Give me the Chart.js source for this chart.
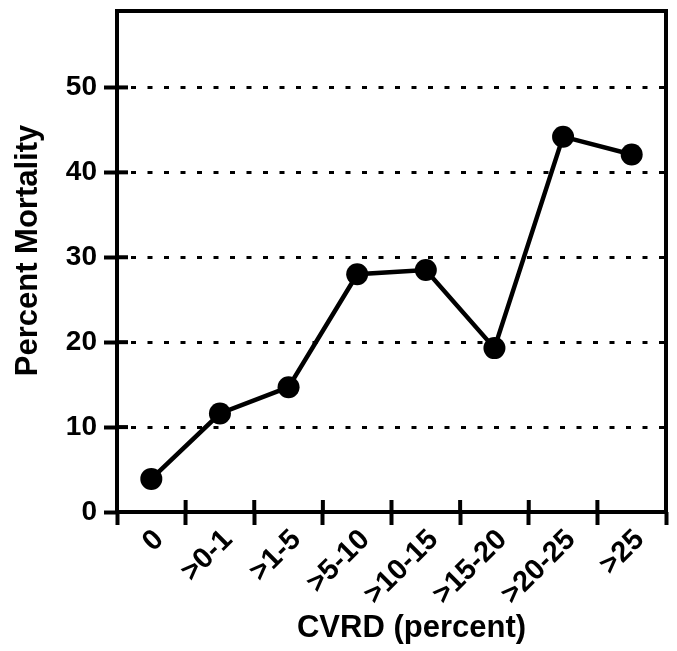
<!DOCTYPE html>
<html>
<head>
<meta charset="utf-8">
<title>Percent Mortality by CVRD</title>
<script src="https://cdn.jsdelivr.net/npm/chart.js@4.4.1/dist/chart.umd.min.js"></script>
<style>
  html, body { margin: 0; padding: 0; background: #fff; }
</style>
</head>
<body>
<canvas id="mortalityChart" width="677" height="651"></canvas>
<script>
// data
const cvrdGroups = ["0", ">0-1", ">1-5", ">5-10", ">10-15", ">15-20", ">20-25", ">25"];
const percentMortality = [3.9, 11.6, 14.7, 28.0, 28.5, 19.3, 44.2, 42.1];
const yTickValues = [0, 10, 20, 30, 40, 50];
const yMax = 59;
const xTitle = 'CVRD (percent)';
const yTitle = 'Percent Mortality';

const FONT = '"Liberation Sans", Arial, Helvetica, sans-serif';
const INK = '#000';
const CLEAR = 'rgba(0,0,0,0)';

// box around the plot + the half of each tick that pokes inside it
const frameTicks = {
  id: 'frameTicks',
  beforeDatasetsDraw(chart) {
    const {ctx, chartArea: a, scales} = chart;
    ctx.save();
    ctx.strokeStyle = INK;
    ctx.lineWidth = 4;
    ctx.setLineDash([]);
    ctx.strokeRect(a.left, a.top, a.right - a.left, a.bottom - a.top);
    yTickValues.forEach(v => {
      const y = scales.y.getPixelForValue(v);
      ctx.beginPath();
      ctx.moveTo(a.left, y);
      ctx.lineTo(a.left + 11, y);
      ctx.stroke();
    });
    for (let i = 1; i < cvrdGroups.length; i++) {
      const x = scales.x.getPixelForValue(i - 0.5);
      ctx.beginPath();
      ctx.moveTo(x, a.bottom);
      ctx.lineTo(x, a.bottom - 12);
      ctx.stroke();
    }
    ctx.restore();
  }
};

// axis titles sit a little off-centre in the original figure
const axisTitles = {
  id: 'axisTitles',
  afterDraw(chart) {
    const {ctx, chartArea: a} = chart;
    ctx.save();
    ctx.fillStyle = INK;
    ctx.font = 'bold 31px ' + FONT;
    ctx.textAlign = 'center';
    ctx.textBaseline = 'alphabetic';
    ctx.fillText(xTitle, (a.left + a.right) / 2 + 20, a.bottom + 125);
    ctx.translate(a.left - 80.5, (a.top + a.bottom) / 2 - 11);
    ctx.rotate(-Math.PI / 2);
    ctx.fillText(yTitle, 0, 0);
    ctx.restore();
  }
};

new Chart(document.getElementById('mortalityChart'), {
  type: 'line',
  data: {
    labels: cvrdGroups,
    datasets: [{
      label: yTitle,
      data: percentMortality,
      borderColor: INK,
      borderWidth: 4.5,
      tension: 0,
      pointRadius: 11,
      pointBackgroundColor: INK,
      pointBorderWidth: 0
    }]
  },
  options: {
    responsive: false,
    animation: false,
    layout: { padding: { top: 10, right: 11, bottom: 0, left: 0 } },
    plugins: {
      legend: { display: false },
      tooltip: { enabled: false }
    },
    scales: {
      x: {
        offset: true,
        afterFit(scale) {
          scale.height = 139; // room for rotated labels + title
        },
        grid: {
          display: true,
          drawOnChartArea: false,
          offset: true,
          tickLength: 13,
          tickWidth: 4,
          tickColor: INK
        },
        border: { display: false },
        ticks: {
          color: INK,
          font: { family: FONT, size: 29, weight: 'bold', lineHeight: 1 },
          minRotation: 45,
          maxRotation: 45,
          autoSkip: false,
          padding: 0,
          labelOffset: 8
        }
      },
      y: {
        min: 0,
        max: yMax,
        afterBuildTicks(scale) {
          scale.ticks = yTickValues.concat([yMax]).map(v => ({ value: v }));
        },
        afterFit(scale) {
          scale.width = 117; // room for tick labels + title
          scale.paddingTop = 0;
          scale.paddingBottom = 0;
        },
        grid: {
          lineWidth: 3,
          color: c => (c.tick && (c.tick.value === 0 || c.tick.value === yMax)) ? CLEAR : INK,
          tickLength: 13,
          tickWidth: 4,
          tickColor: c => (c.tick && c.tick.value === yMax) ? CLEAR : INK
        },
        border: { display: false, dash: [5, 11.5], dashOffset: 2.5 },
        ticks: {
          color: INK,
          font: { family: FONT, size: 28, weight: 'bold' },
          padding: 7,
          callback: v => yTickValues.includes(v) ? String(v) : null
        }
      }
    }
  },
  plugins: [frameTicks, axisTitles]
});
</script>
</body>
</html>
